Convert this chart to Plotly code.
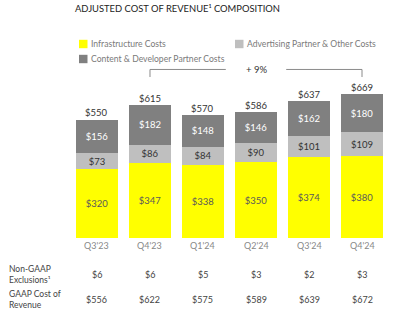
import plotly.graph_objects as go

quarters = ["Q3'23", "Q4'23", "Q1'24", "Q2'24", "Q3'24", "Q4'24"]
infrastructure = [320, 347, 338, 350, 374, 380]
advertising = [73, 86, 84, 90, 101, 109]
content = [156, 182, 148, 146, 162, 180]
totals = [550, 615, 570, 586, 637, 669]
non_gaap = [6, 6, 5, 3, 2, 3]
gaap = [556, 622, 575, 589, 639, 672]
growth_label = "+ 9%"

FONT = "Lato"
YELLOW = "#FFFF00"
LGRAY = "#BFBFBF"
DGRAY = "#808080"

fig = go.Figure()
series = [
    ("Infrastructure Costs", infrastructure, YELLOW, "#5a5a5a"),
    ("Advertising Partner & Other Costs", advertising, LGRAY, "#333333"),
    ("Content & Developer Partner Costs", content, DGRAY, "#ffffff"),
]
for name, vals, color, tcolor in series:
    fig.add_trace(go.Bar(
        x=quarters, y=vals, name=name, marker=dict(color=color, line=dict(width=0)),
        width=0.79, text=[f"${v}" for v in vals], textposition="inside",
        insidetextanchor="middle", textangle=0,
        textfont=dict(family=FONT, size=9.5, color=tcolor),
        constraintext="none", showlegend=False,
    ))

ann = []
for q, t in zip(quarters, totals):
    ann.append(dict(x=q, y=t, xref="x", yref="y", text=f"${t}", showarrow=False,
                    yanchor="bottom", yshift=-1, font=dict(family=FONT, size=9.5, color="#333333")))
    ann.append(dict(x=q, y=-37, xref="x", yref="y", text=q, showarrow=False,
                    yanchor="middle", font=dict(family=FONT, size=9, color="#888888")))
for q, v in zip(quarters, non_gaap):
    ann.append(dict(x=q, y=-167, xref="x", yref="y", text=f"${v}", showarrow=False,
                    yanchor="middle", font=dict(family=FONT, size=9, color="#444444")))
for q, v in zip(quarters, gaap):
    ann.append(dict(x=q, y=-283, xref="x", yref="y", text=f"${v}", showarrow=False,
                    yanchor="middle", font=dict(family=FONT, size=9, color="#444444")))

ann.append(dict(x=7/400, y=1-274/323, xref="paper", yref="paper", xanchor="left", yanchor="middle",
                align="left", text="Non-GAAP<br>Exclusions¹", showarrow=False,
                font=dict(family=FONT, size=8.5, color="#444444")))
ann.append(dict(x=7/400, y=1-299/323, xref="paper", yref="paper", xanchor="left", yanchor="middle",
                align="left", text="GAAP Cost of<br>Revenue", showarrow=False,
                font=dict(family=FONT, size=8.5, color="#444444")))

# title
ann.append(dict(x=73/400, y=1-9/323, xref="paper", yref="paper", xanchor="left", yanchor="middle",
                text="ADJUSTED COST OF REVENUE¹ COMPOSITION", showarrow=False,
                font=dict(family=FONT, size=9.4, color="#222222")))

# manual legend
shapes = []
legend_pos = [(79, 44), (235, 44), (79, 59)]
for (name, vals, color, tcolor), (lx, ly) in zip(series, legend_pos):
    shapes.append(dict(type="rect", xref="paper", yref="paper",
                       x0=lx/400, x1=(lx+8.5)/400, y0=1-(ly+4.2)/323, y1=1-(ly-4.2)/323,
                       fillcolor=color, line=dict(width=0)))
    ann.append(dict(x=(lx+10)/400, y=1-ly/323, xref="paper", yref="paper", xanchor="left",
                    yanchor="middle", text=name, showarrow=False,
                    font=dict(family=FONT, size=8.6, color="#7a7a7a")))

# growth bracket
line = dict(color="#8a8a8a", width=1)
yb, yt = 746, 781
shapes += [
    dict(type="line", xref="x", yref="y", x0=1, x1=1, y0=yb, y1=yt, line=line),
    dict(type="line", xref="x", yref="y", x0=1, x1=2.43, y0=yt, y1=yt, line=line),
    dict(type="line", xref="x", yref="y", x0=3.57, x1=5, y0=yt, y1=yt, line=line),
    dict(type="line", xref="x", yref="y", x0=5, x1=5, y0=yb, y1=yt, line=line),
]
ann.append(dict(x=3, y=yt, xref="x", yref="y", text=growth_label, showarrow=False,
                yanchor="middle", font=dict(family=FONT, size=9.5, color="#333333")))

fig.update_layout(
    width=400, height=323, margin=dict(l=0, r=0, t=0, b=0),
    paper_bgcolor="white", plot_bgcolor="white", barmode="stack",
    xaxis=dict(type="category", categoryorder="array", categoryarray=quarters,
               range=[-1.830, 5.717], visible=False, fixedrange=True),
    yaxis=dict(range=[-393.9, 1102.9], visible=False, fixedrange=True),
    annotations=ann, shapes=shapes, showlegend=False,
)
fig.write_html("out.html")
